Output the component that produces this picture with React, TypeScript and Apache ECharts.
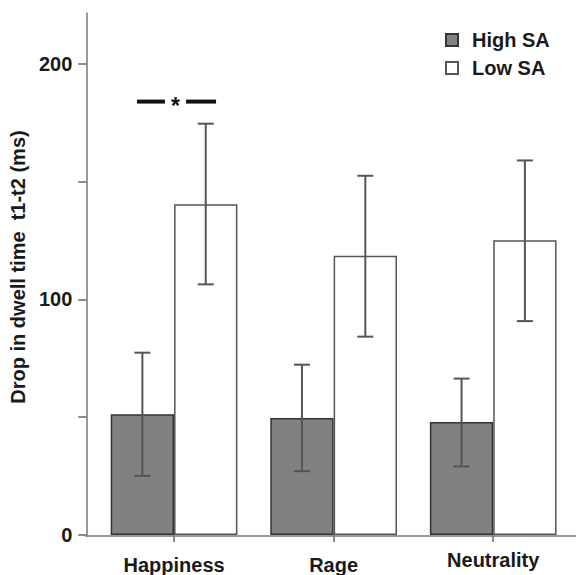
import React, { useEffect, useRef } from "react";
import * as echarts from "echarts";

const categories = ["Happiness", "Rage", "Neutrality"];
const categoryLineHeights = [20, 20, 10];
const seriesNames = ["High SA", "Low SA"];
const highMeans = [51.3, 49.7, 48.0];
const highLower = [25.1, 27.1, 29.1];
const highUpper = [77.4, 72.3, 66.4];
const lowMeans = [140.4, 118.5, 125.1];
const lowLower = [106.4, 84.2, 90.8];
const lowUpper = [174.6, 152.5, 159.0];
const yTickValues = [0, 50, 100, 150, 200];
const yLabelValues = [0, 100, 200];
const yMax = 221.6;
const sigCategory = "Happiness";
const sigLevel = 184;
const sigText = "*";

const GAP = 0.206;
const FONT = "'Liberation Sans', Arial, Helvetica, sans-serif";

function errorSeries(lower: number[], upper: number[], sign: number) {
  return {
    type: "custom",
    silent: true,
    z: 5,
    data: categories.map((_, i) => [i, lower[i], upper[i]]),
    encode: { x: 0, y: [1, 2] },
    renderItem: (params: any, api: any) => {
      const idx = api.value(0);
      const pLo = api.coord([idx, api.value(1)]);
      const pHi = api.coord([idx, api.value(2)]);
      const band = api.size([1, 0])[0];
      const bw = (band * (1 - GAP)) / 2;
      const cx = pLo[0] + (sign * bw) / 2;
      const style = { stroke: "#555", lineWidth: 2 };
      const cap = 8;
      return {
        type: "group",
        children: [
          { type: "line", shape: { x1: cx, y1: pLo[1], x2: cx, y2: pHi[1] }, style },
          { type: "line", shape: { x1: cx - cap, y1: pHi[1], x2: cx + cap, y2: pHi[1] }, style },
          { type: "line", shape: { x1: cx - cap, y1: pLo[1], x2: cx + cap, y2: pLo[1] }, style },
        ],
      };
    },
  };
}

export default function App() {
  const ref = useRef<HTMLDivElement>(null);
  useEffect(() => {
    if (!ref.current) return;
    const chart = echarts.init(ref.current, undefined, { renderer: "svg" });
    const gridTop = 13;
    const gridBottom = 39;
    chart.setOption({
      animation: false,
      backgroundColor: "#fff",
      grid: { left: 93, right: 3, top: gridTop, bottom: gridBottom, containLabel: false },
      legend: {
        data: seriesNames,
        orient: "vertical",
        left: 440,
        top: 25,
        itemWidth: 12,
        itemHeight: 12,
        itemGap: 8,
        icon: "rect",
        textStyle: {
          fontFamily: FONT,
          fontWeight: "bold",
          fontSize: 20,
          color: "#1a1a1a",
          padding: [0, 0, 0, 9],
        },
      },
      xAxis: {
        type: "category",
        data: categories.map((c, i) => ({ value: c, textStyle: { lineHeight: categoryLineHeights[i] } })),
        axisLine: { show: false },
        axisTick: { show: true, alignWithLabel: true, length: 7, lineStyle: { color: "#666", width: 1.5 } },
        axisLabel: {
          fontFamily: FONT,
          fontWeight: "bold",
          fontSize: 20,
          color: "#1a1a1a",
          margin: 20,
        },
      },
      yAxis: {
        type: "value",
        min: 0,
        max: yMax,
        offset: 8,
        name: "Drop in dwell time  t1-t2 (ms)",
        nameLocation: "middle",
        nameGap: 55,
        nameTextStyle: {
          fontFamily: FONT,
          fontWeight: "bold",
          fontSize: 20,
          color: "#1a1a1a",
          padding: [0, 0, 0, 14],
        },
        splitLine: { show: false },
        axisLine: { show: true, lineStyle: { color: "#777", width: 1.5 } },
        axisTick: {
          show: true,
          length: 8,
          customValues: yTickValues,
          lineStyle: { color: "#666", width: 1.5 },
        },
        axisLabel: {
          customValues: yLabelValues,
          fontFamily: FONT,
          fontWeight: "bold",
          fontSize: 20,
          color: "#1a1a1a",
          margin: 14,
        },
      },
      graphic: [
        {
          type: "line",
          shape: { x1: 85, y1: 575 - gridBottom, x2: 576, y2: 575 - gridBottom },
          style: { stroke: "#777", lineWidth: 1.5 },
          z: 10,
        },
      ],
      series: [
        {
          name: seriesNames[0],
          type: "bar",
          data: highMeans,
          barGap: "0%",
          barCategoryGap: GAP * 100 + "%",
          itemStyle: { color: "#818181", borderColor: "#333", borderWidth: 1.5 },
        },
        {
          name: seriesNames[1],
          type: "bar",
          data: lowMeans,
          barGap: "0%",
          barCategoryGap: GAP * 100 + "%",
          itemStyle: { color: "#ffffff", borderColor: "#555", borderWidth: 1.5 },
        },
        errorSeries(highLower, highUpper, -1),
        errorSeries(lowLower, lowUpper, 1),
        {
          type: "custom",
          silent: true,
          z: 6,
          data: [[categories.indexOf(sigCategory), sigLevel]],
          encode: { x: 0, y: 1 },
          renderItem: (params: any, api: any) => {
            const p = api.coord([api.value(0), api.value(1)]);
            const cx = p[0];
            const y = p[1];
            return {
              type: "group",
              children: [
                { type: "rect", shape: { x: cx - 37, y: y - 2, width: 28, height: 4 }, style: { fill: "#111" } },
                { type: "rect", shape: { x: cx + 12, y: y - 2, width: 30, height: 4 }, style: { fill: "#111" } },
                {
                  type: "text",
                  x: cx + 1.5,
                  y: y + 4,
                  style: {
                    text: sigText,
                    fontFamily: FONT,
                    fontWeight: "bold",
                    fontSize: 23,
                    fill: "#111",
                    align: "center",
                    verticalAlign: "middle",
                  },
                },
              ],
            };
          },
        },
      ],
    });
    return () => chart.dispose();
  }, []);
  return <div ref={ref} style={{ position: "fixed", left: 0, top: 0, width: 576, height: 575 }} />;
}
